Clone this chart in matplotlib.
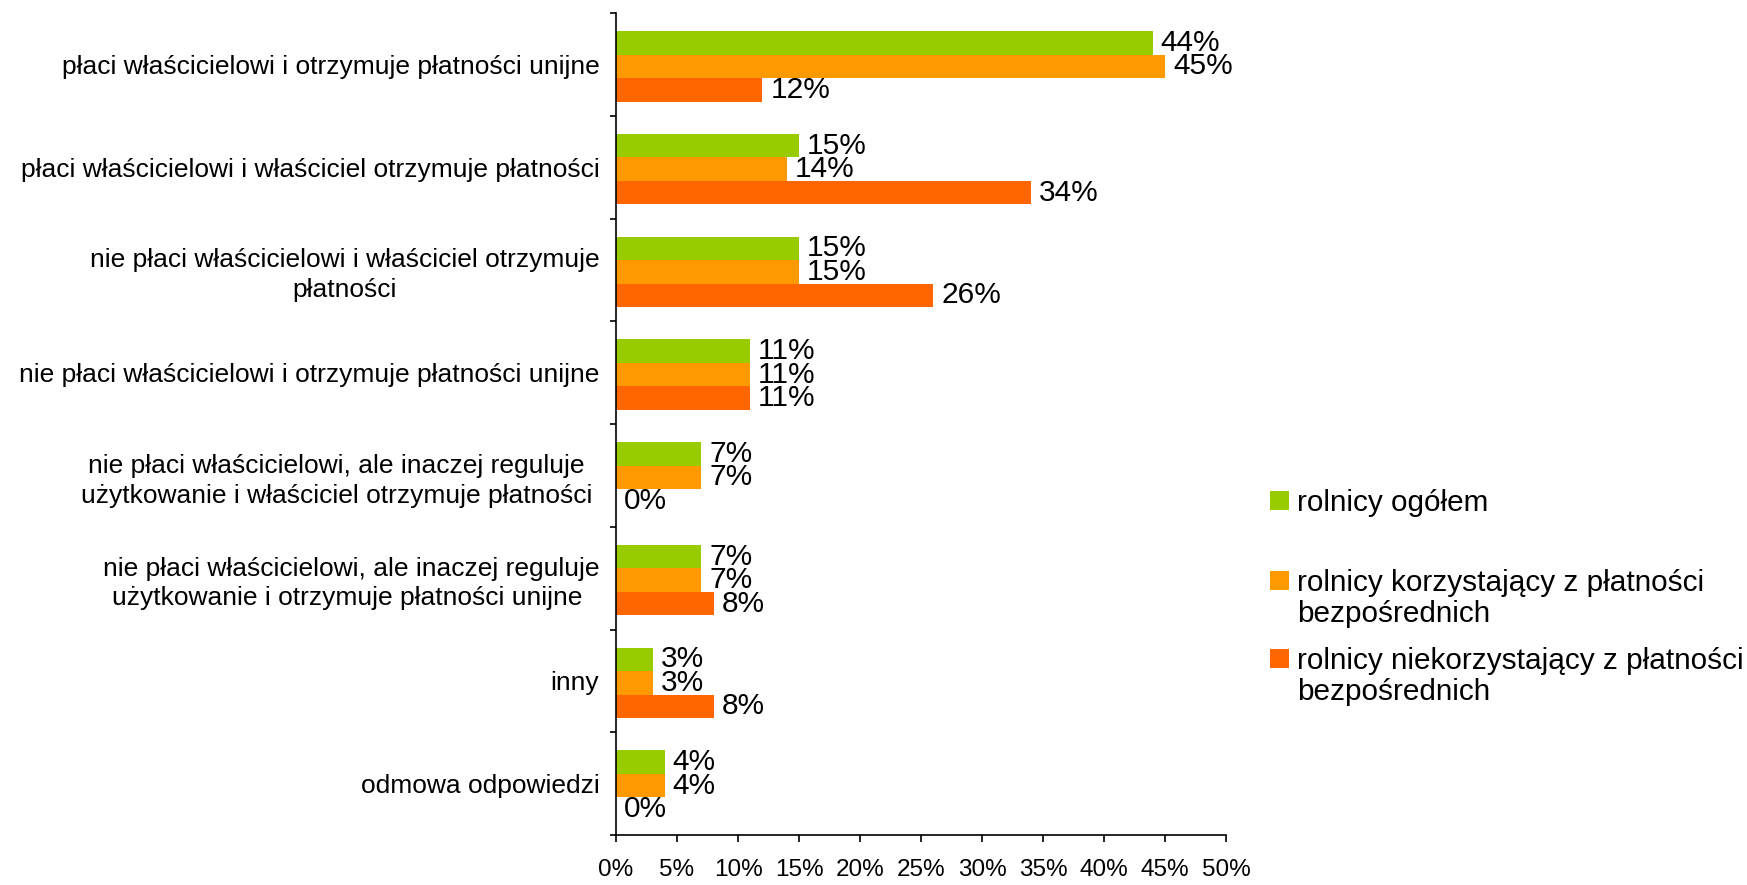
import matplotlib
matplotlib.use("Agg")
import matplotlib.pyplot as plt
from matplotlib.patches import Patch
import numpy as np

plt.rcParams['font.family'] = ['Liberation Sans', 'DejaVu Sans']

categories = [
    "płaci właścicielowi i otrzymuje płatności unijne",
    "płaci właścicielowi i właściciel otrzymuje płatności",
    "nie płaci właścicielowi i właściciel otrzymuje\npłatności",
    "nie płaci właścicielowi i otrzymuje płatności unijne",
    "nie płaci właścicielowi, ale inaczej reguluje \nużytkowanie i właściciel otrzymuje płatności ",
    "nie płaci właścicielowi, ale inaczej reguluje\nużytkowanie i otrzymuje płatności unijne ",
    "inny",
    "odmowa odpowiedzi",
]
series_names = [
    ["rolnicy ogółem"],
    ["rolnicy korzystający z płatności", "bezpośrednich"],
    ["rolnicy niekorzystający z płatności", "bezpośrednich"],
]
ogolem = [44, 15, 15, 11, 7, 7, 3, 4]
korzystajacy = [45, 14, 15, 11, 7, 7, 3, 4]
niekorzystajacy = [12, 34, 26, 11, 0, 8, 8, 0]
xticks = [0, 5, 10, 15, 20, 25, 30, 35, 40, 45, 50]

colors = ["#99CC00", "#FF9900", "#FF6600"]
series = [ogolem, korzystajacy, niekorzystajacy]

W, H = 1747, 885
fig = plt.figure(figsize=(W / 100, H / 100), dpi=100)
ax = fig.add_axes([616 / W, 1 - 835 / H, 610 / W, 822 / H])

y = np.arange(len(categories))
bh = 0.229
offsets = [-bh + 0.02, 0.02, bh + 0.02]
for vals, col, off in zip(series, colors, offsets):
    ax.barh(y + off, vals, height=bh, color=col, linewidth=0)
    for yy, v in zip(y + off, vals):
        ax.text(v + 0.65, yy, f"{v}%", va="center", ha="left", fontsize=21.5)

ax.set_xlim(0, 50)
ax.set_ylim(len(categories) - 0.5, -0.5)
ax.set_xticks(xticks)
ax.set_xticklabels([f"{t}%" for t in xticks], fontsize=17.5)
ax.tick_params(axis="x", direction="out", length=5, width=1.2, pad=12)

ax.set_yticks(y)
ax.set_yticklabels(categories, fontsize=19, multialignment="center", linespacing=1.3)
ax.tick_params(axis="y", which="major", length=0, pad=12)
ax.set_yticks(np.arange(-0.5, len(categories), 1.0), minor=True)
ax.tick_params(axis="y", which="minor", direction="out", length=4.5, width=1.2)

for s in ["top", "right"]:
    ax.spines[s].set_visible(False)
for s in ["left", "bottom"]:
    ax.spines[s].set_linewidth(1.2)
    ax.spines[s].set_color("black")

# legend entries (first line with colour square, further lines as text below)
legend_first_y = [503, 583, 661]
line_gap = 31
fs_leg = 21.4
for lines, col, ly in zip(series_names, colors, legend_first_y):
    fig.legend(handles=[Patch(facecolor=col, edgecolor="none")], labels=[lines[0]],
               loc="center left", bbox_to_anchor=(1270 / W, 1 - ly / H), frameon=False,
               fontsize=fs_leg, handlelength=0.64, handleheight=0.64, handletextpad=0.27,
               borderpad=0, borderaxespad=0)
    for k, extra in enumerate(lines[1:], start=1):
        fig.text(1297 / W, 1 - (ly + k * line_gap) / H, extra, fontsize=fs_leg,
                 ha="left", va="center")

fig.savefig("out.png", dpi=100)
